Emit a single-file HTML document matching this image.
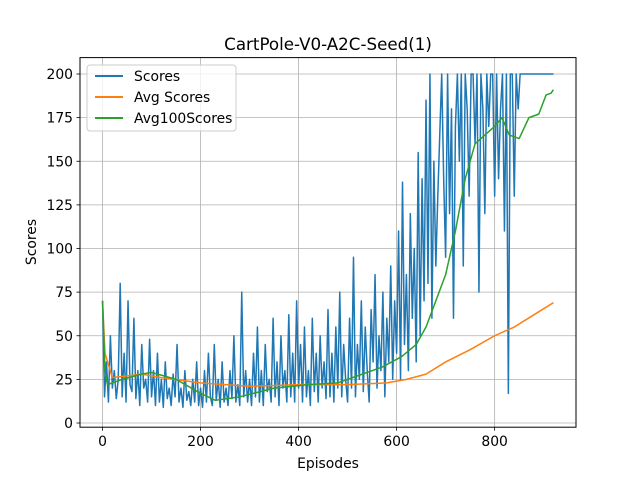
<!DOCTYPE html>
<html><head><meta charset="utf-8"><style>
body{margin:0;background:#fff}
svg{display:block;font-family:"DejaVu Sans","Liberation Sans",sans-serif}
</style></head><body>
<svg id="chart" width="640" height="480">
<rect width="640" height="480" fill="#fff"/>
<g id="grid"></g>
<g id="ticks"></g>
<g id="series"></g>
<rect x="80" y="57.6" width="496" height="369.6" fill="none" stroke="#000" stroke-width="1"/>
<text x="328" y="50" font-size="16.7" text-anchor="middle">CartPole-V0-A2C-Seed(1)</text>
<text x="328" y="468" font-size="13.9" text-anchor="middle">Episodes</text>
<text x="36" y="242" font-size="13.9" text-anchor="middle" transform="rotate(-90 36 242)">Scores</text>
<g>
<rect x="87" y="65" width="149" height="66" rx="3" fill="#fff" fill-opacity="0.8" stroke="#ccc"/>
<line x1="95" y1="76" x2="123" y2="76" stroke="#1f77b4" stroke-width="2"/>
<text x="134" y="81" font-size="13.9">Scores</text>
<line x1="95" y1="97" x2="123" y2="97" stroke="#ff7f0e" stroke-width="2"/>
<text x="134" y="102" font-size="13.9">Avg Scores</text>
<line x1="95" y1="118" x2="123" y2="118" stroke="#2ca02c" stroke-width="2"/>
<text x="134" y="123" font-size="13.9">Avg100Scores</text>
</g>
</svg>
<script>
const scoreStep = 4;
const scores = [70,15,35,12,50,20,30,14,25,80,15,40,12,70,22,18,60,14,30,10,45,20,25,12,48,
15,30,10,40,12,25,9,35,14,20,10,28,15,45,12,20,9,30,13,18,10,25,12,35,10,
20,9,30,12,40,15,10,45,13,25,9,35,12,20,10,30,14,50,12,22,10,75,15,30,12,
25,10,40,15,55,12,30,10,45,18,25,12,60,15,35,10,50,20,30,12,62,15,40,12,70,
20,45,12,55,15,30,10,60,18,40,12,50,20,35,14,65,15,40,12,55,20,75,15,45,25,
12,60,20,95,15,45,25,70,18,55,30,12,65,35,85,20,50,30,75,15,60,35,90,25,70,
40,110,25,138,45,85,30,120,60,100,35,155,50,140,70,185,80,200,60,150,90,130,165,200,140,
95,200,120,180,60,170,200,150,200,90,200,180,130,200,200,160,200,75,200,180,120,200,170,200,200,
130,200,140,180,200,110,200,17,200,200,130,200,180,200,200,200,200,200,200,200,200,200,200,200,200,
200,200,200,200,200,200];
const avgEpisodes = [0,5,20,50,80,120,200,300,400,500,580,620,660,700,750,800,840,880,920];
const avgValues =   [70,40,26,27,28,26,23,21,22,22,23,25,28,35,42,50,55,62,69];
const avg100Episodes = [0,5,10,40,80,100,150,200,230,280,350,420,480,520,570,610,640,660,680,700,720,740,760,780,800,815,830,850,870,890,905,915,920];
const avg100Values =   [70,30,22,25,28,29,25,17,13,15,20,22,23,27,32,38,45,55,70,85,110,140,160,165,170,175,165,163,175,177,188,189,191];
const xTicks = [0,200,400,600,800];
const yTicks = [0,25,50,75,100,125,150,175,200];

const NS="http://www.w3.org/2000/svg";
const xS = v => 80 + (v + 46) * 496 / 1012;
const yS = v => 423 - v * 1.745;
const grid=document.getElementById('grid'), ticks=document.getElementById('ticks'), ser=document.getElementById('series');
function mk(tag,attrs,parent){const e=document.createElementNS(NS,tag);for(const k in attrs)e.setAttribute(k,attrs[k]);parent.appendChild(e);return e;}
xTicks.forEach(t=>{
  const x=xS(t);
  const g=mk('line',{x1:x,x2:x,y1:57.6,y2:427.2,stroke:'#b0b0b0','stroke-width':0.8},grid);
  
  
  const tk=mk('line',{x1:x,x2:x,y1:427.2,y2:430.7,stroke:'#000','stroke-width':0.8},ticks);
  
  
  const tx=mk('text',{x:x,y:446,'font-size':13.9,'text-anchor':'middle'},ticks);
  tx.textContent=t;
  
  
});
yTicks.forEach(t=>{
  const y=yS(t);
  const g=mk('line',{x1:80,x2:576,y1:y,y2:y,stroke:'#b0b0b0','stroke-width':0.8},grid);
  
  
  const tk=mk('line',{x1:76.5,x2:80,y1:y,y2:y,stroke:'#000','stroke-width':0.8},ticks);
  
  
  const tx=mk('text',{x:73,y:y+5,'font-size':13.9,'text-anchor':'end'},ticks);
  tx.textContent=t;
  
  
});
function line(xs,ys,color,name){
  const d=xs.map((x,i)=>(i?'L':'M')+xS(x).toFixed(2)+' '+yS(ys[i]).toFixed(2)).join(' ');
  const p=mk('path',{d:d,fill:'none',stroke:color,'stroke-width':1.5,'stroke-linejoin':'round'},ser);
  
  
}
line(scores.map((v,i)=>i*scoreStep),scores,'#1f77b4','scores-line');
line(avgEpisodes,avgValues,'#ff7f0e','avg-scores-line');
line(avg100Episodes,avg100Values,'#2ca02c','avg100-scores-line');
</script>
</body></html>
